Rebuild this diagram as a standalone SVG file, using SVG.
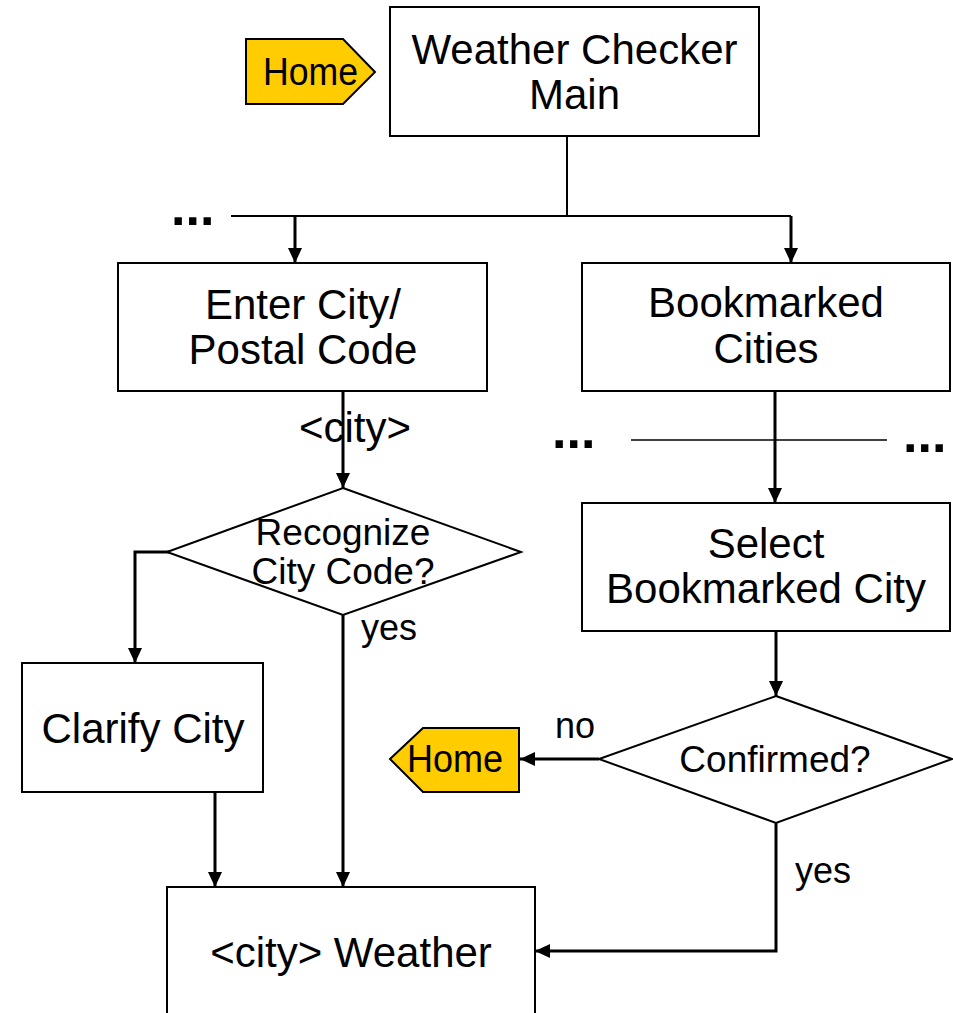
<svg xmlns="http://www.w3.org/2000/svg" width="953" height="1013" viewBox="0 0 953 1013">
<style>
text{font-family:"Liberation Sans",Arial,Helvetica,sans-serif;fill:#000}
.box{fill:#fff;stroke:#000;stroke-width:2}
.tag{fill:#FFCC00;stroke:#000;stroke-width:2}
.t42{font-size:42px;text-anchor:middle}
.t37{font-size:37px;text-anchor:middle}
.lbl{font-size:36px}
.dots{font-size:52px;font-weight:bold}
.c{fill:none;stroke:#000;stroke-width:2}
.a{fill:none;stroke:#000;stroke-width:3;marker-end:url(#ah)}
</style>
<defs>
<marker id="ah" viewBox="0 0 15 14" refX="15" refY="7" markerWidth="15" markerHeight="14" markerUnits="userSpaceOnUse" orient="auto">
<path d="M0,0 L15,7 L0,14 z" fill="#000"/>
</marker>
</defs>
<rect width="953" height="1013" fill="#fff"/>
<g id="connectors">
<path class="c" d="M567,136 V216"/>
<path class="c" d="M231,216 H791"/>
<path class="a" d="M295,216 V263"/>
<path class="a" d="M791,216 V263"/>
<path class="a" d="M343,392 V488"/>
<path class="a" d="M181,552 H135 V663"/>
<path class="a" d="M343,615 V887"/>
<path class="a" d="M215,792 V887"/>
<path class="c" d="M631,440 H887" style="stroke-width:1.5"/>
<path class="a" d="M775,391 V503"/>
<path class="a" d="M776,632 V696"/>
<path class="a" d="M599,759 H520"/>
<path class="a" d="M776,823 V951 H535"/>
<text class="t42" x="355" y="442">&lt;city&gt;</text>
<text class="lbl" x="361" y="640">yes</text>
<text class="lbl" x="555" y="738">no</text>
<text class="lbl" x="795" y="883">yes</text>
<text class="dots" x="171" y="225">...</text>
<text class="dots" x="552" y="448">...</text>
<text class="dots" x="903" y="452">...</text>
</g>
<g id="home-top">
<path class="tag" d="M246,39 H343 L375,72 L343,104 H246 Z"/>
<text x="310.5" y="85" font-size="38" text-anchor="middle" textLength="95" lengthAdjust="spacingAndGlyphs">Home</text>
</g>
<g id="main">
<rect class="box" x="390" y="7" width="369" height="129"/>
<text class="t42" x="574.5" y="64">Weather Checker</text>
<text class="t42" x="574.5" y="109">Main</text>
</g>
<g id="enter-city">
<rect class="box" x="118" y="263" width="369" height="128"/>
<text class="t42" x="303" y="319">Enter City/</text>
<text class="t42" x="303" y="364">Postal Code</text>
</g>
<g id="bookmarked-cities">
<rect class="box" x="582" y="263" width="368" height="128"/>
<text class="t42" x="766" y="317">Bookmarked</text>
<text class="t42" x="766" y="363">Cities</text>
</g>
<g id="recognize">
<path class="box" d="M343,488 L521,552 L343,615 L167,552 Z"/>
<text class="t37" x="343" y="545">Recognize</text>
<text class="t37" x="343" y="584">City Code?</text>
</g>
<g id="select-bookmarked">
<rect class="box" x="582" y="503" width="368" height="128"/>
<text class="t42" x="766" y="558">Select</text>
<text class="t42" x="766" y="603">Bookmarked City</text>
</g>
<g id="clarify">
<rect class="box" x="22" y="663" width="241" height="129"/>
<text class="t42" x="143" y="743">Clarify City</text>
</g>
<g id="confirmed">
<path class="box" d="M776,696 L952,759 L776,823 L599,759 Z"/>
<text class="t37" x="775" y="772">Confirmed?</text>
</g>
<g id="home-bottom">
<path class="tag" d="M390,759 L423,728 H519 V792 H423 Z"/>
<text x="455" y="772" font-size="38" text-anchor="middle" textLength="96" lengthAdjust="spacingAndGlyphs">Home</text>
</g>
<g id="weather">
<rect class="box" x="167" y="887" width="368" height="140"/>
<text class="t42" x="351" y="967">&lt;city&gt; Weather</text>
</g>
</svg>
